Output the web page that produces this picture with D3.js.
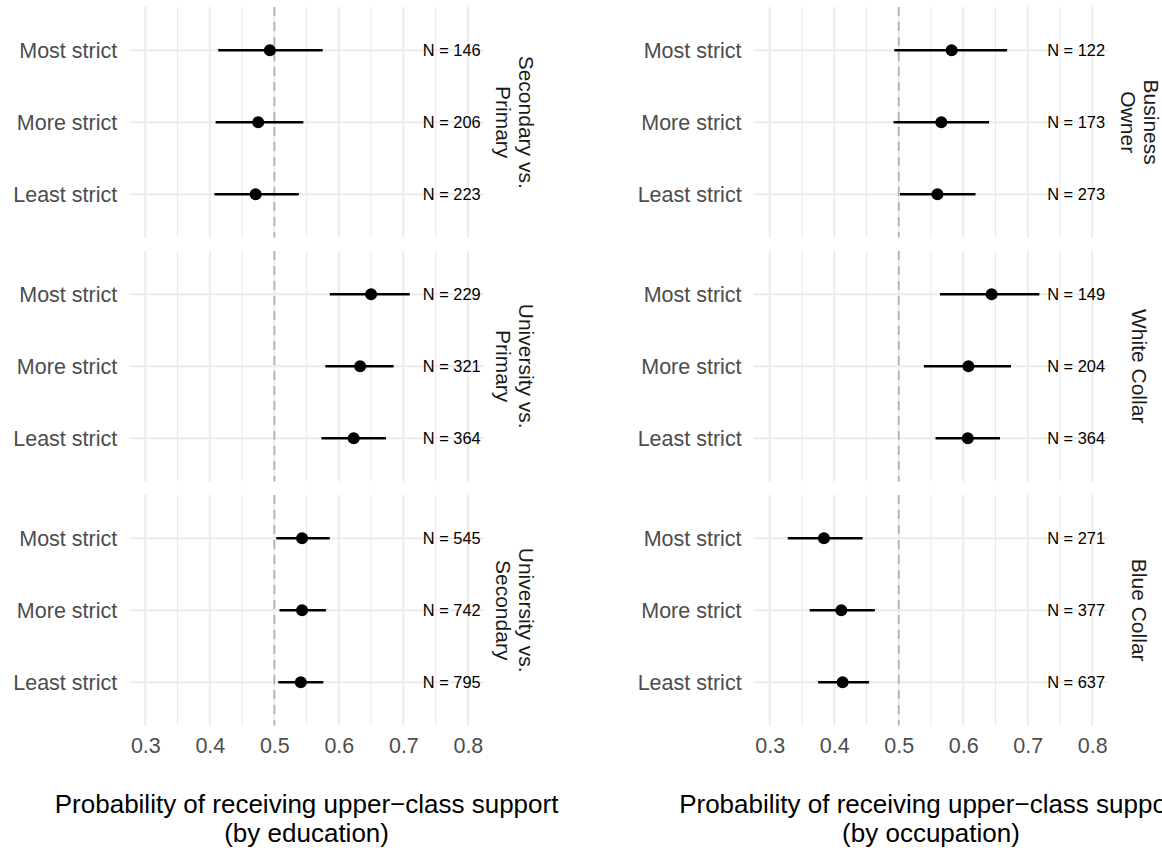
<!DOCTYPE html>
<html>
<head>
<meta charset="utf-8">
<script src="https://cdn.jsdelivr.net/npm/d3@7"></script>
<style>
  html, body { margin: 0; padding: 0; background: #ffffff; }
  svg { display: block; font-family: "Liberation Sans", Arial, Helvetica, sans-serif; }
</style>
</head>
<body>
<svg id="chart" width="1162" height="848"></svg>
<script>
// ---------------- DATA ----------------
const strictness = ["Most strict", "More strict", "Least strict"];

const eduPanels = [["Secondary vs.", "Primary"], ["University vs.", "Primary"], ["University vs.", "Secondary"]];
const eduEstimate = [[0.493, 0.475, 0.471], [0.650, 0.633, 0.623], [0.543, 0.543, 0.541]];
const eduLower    = [[0.413, 0.409, 0.407], [0.586, 0.579, 0.573], [0.503, 0.508, 0.506]];
const eduUpper    = [[0.575, 0.545, 0.538], [0.710, 0.685, 0.673], [0.586, 0.580, 0.576]];
const eduN        = [[146, 206, 223], [229, 321, 364], [545, 742, 795]];

const occPanels = [["Business", "Owner"], ["White Collar"], ["Blue Collar"]];
const occEstimate = [[0.582, 0.566, 0.560], [0.644, 0.608, 0.607], [0.384, 0.411, 0.413]];
const occLower    = [[0.493, 0.492, 0.502], [0.564, 0.539, 0.557], [0.328, 0.362, 0.375]];
const occUpper    = [[0.668, 0.640, 0.619], [0.718, 0.674, 0.657], [0.444, 0.463, 0.454]];
const occN        = [[122, 173, 273], [149, 204, 364], [271, 377, 637]];

const xLimits = [0.3, 0.8];
const majorTicks = [0.3, 0.4, 0.5, 0.6, 0.7, 0.8];
const minorTicks = [0.35, 0.45, 0.55, 0.65, 0.75];
const refLine = 0.5;
const nLabelX = 0.775;

const eduTitle = ["Probability of receiving upper\u2212class support", "(by education)"];
const occTitle = ["Probability of receiving upper\u2212class support", "(by occupation)"];

// ---------------- LAYOUT ----------------
const svg = d3.select("#chart");
const panelW = 354.8;
const panelH = 230.4;
const rowTops = [7, 251, 495];
const colLefts = [129.2, 753.6];

const expand = (xLimits[1] - xLimits[0]) * 0.05;
const x = d3.scaleLinear().domain([xLimits[0] - expand, xLimits[1] + expand]).range([0, panelW]);
const y = d3.scalePoint().domain(strictness).range([0, panelH]).padding(0.6);

const gridCol = "#EBEBEB";
const axisTextCol = "#4D4D4D";

function drawColumn(colIdx, panels, est, lo, hi, ns, title) {
  const left = colLefts[colIdx];
  panels.forEach((strip, r) => {
    const g = svg.append("g").attr("transform", `translate(${left},${rowTops[r]})`);

    // minor vertical gridlines
    g.selectAll("line.minor").data(minorTicks).join("line")
      .attr("x1", d => x(d)).attr("x2", d => x(d))
      .attr("y1", 0).attr("y2", panelH)
      .attr("stroke", gridCol).attr("stroke-width", 1.1);
    // major vertical gridlines
    g.selectAll("line.major").data(majorTicks).join("line")
      .attr("x1", d => x(d)).attr("x2", d => x(d))
      .attr("y1", 0).attr("y2", panelH)
      .attr("stroke", gridCol).attr("stroke-width", 2);
    // horizontal gridlines
    g.selectAll("line.hgrid").data(strictness).join("line")
      .attr("x1", 0).attr("x2", panelW)
      .attr("y1", d => y(d)).attr("y2", d => y(d))
      .attr("stroke", gridCol).attr("stroke-width", 2);

    // reference dashed line
    g.append("line")
      .attr("x1", x(refLine)).attr("x2", x(refLine))
      .attr("y1", 0).attr("y2", panelH)
      .attr("stroke", "#B3B3B3").attr("stroke-width", 1.8)
      .attr("stroke-dasharray", "9,6");

    const rows = strictness.map((s, i) => ({ s, est: est[r][i], lo: lo[r][i], hi: hi[r][i], n: ns[r][i] }));

    // N labels
    g.selectAll("text.nlab").data(rows).join("text")
      .attr("x", x(nLabelX)).attr("y", d => y(d.s))
      .attr("dy", "0.36em")
      .attr("text-anchor", "middle")
      .attr("font-size", 16.4)
      .attr("fill", "#000")
      .text(d => "N = " + d.n);

    // error bars
    g.selectAll("line.err").data(rows).join("line")
      .attr("x1", d => x(d.lo)).attr("x2", d => x(d.hi))
      .attr("y1", d => y(d.s)).attr("y2", d => y(d.s))
      .attr("stroke", "#000").attr("stroke-width", 2.4);
    // points
    g.selectAll("circle.pt").data(rows).join("circle")
      .attr("cx", d => x(d.est)).attr("cy", d => y(d.s))
      .attr("r", 6).attr("fill", "#000");

    // y axis
    const ya = g.append("g").call(d3.axisLeft(y).tickSize(0).tickPadding(12));
    ya.select(".domain").remove();
    ya.selectAll("text").attr("font-size", 21.5).attr("fill", axisTextCol)
      .attr("font-family", "Liberation Sans, Arial, sans-serif");

    // x axis (bottom row only)
    if (r === panels.length - 1) {
      const xa = g.append("g").attr("transform", `translate(0,${panelH})`)
        .call(d3.axisBottom(x).tickValues(majorTicks).tickSize(0).tickPadding(12).tickFormat(d3.format(".1f")));
      xa.select(".domain").remove();
      xa.selectAll("text").attr("font-size", 21.5).attr("fill", axisTextCol)
        .attr("font-family", "Liberation Sans, Arial, sans-serif");
    }

    // strip label (rotated, right side)
    const sx = left + panelW + 31;
    const sy = rowTops[r] + panelH / 2;
    const st = svg.append("text")
      .attr("transform", `translate(${sx},${sy}) rotate(90)`)
      .attr("text-anchor", "middle")
      .attr("font-size", 21)
      .attr("fill", "#1A1A1A");
    const lh = 23;
    strip.forEach((line, i) => {
      st.append("tspan")
        .attr("x", 0)
        .attr("y", (i - (strip.length - 1) / 2) * lh)
        .attr("dy", "0.35em")
        .text(line);
    });
  });

  // axis title
  const tx = left + panelW / 2;
  const tt = svg.append("text")
    .attr("text-anchor", "middle")
    .attr("font-size", 26)
    .attr("fill", "#000");
  title.forEach((line, i) => {
    tt.append("tspan").attr("x", tx).attr("y", 813 + i * 29).text(line);
  });
}

drawColumn(0, eduPanels, eduEstimate, eduLower, eduUpper, eduN, eduTitle);
drawColumn(1, occPanels, occEstimate, occLower, occUpper, occN, occTitle);
</script>
</body>
</html>
